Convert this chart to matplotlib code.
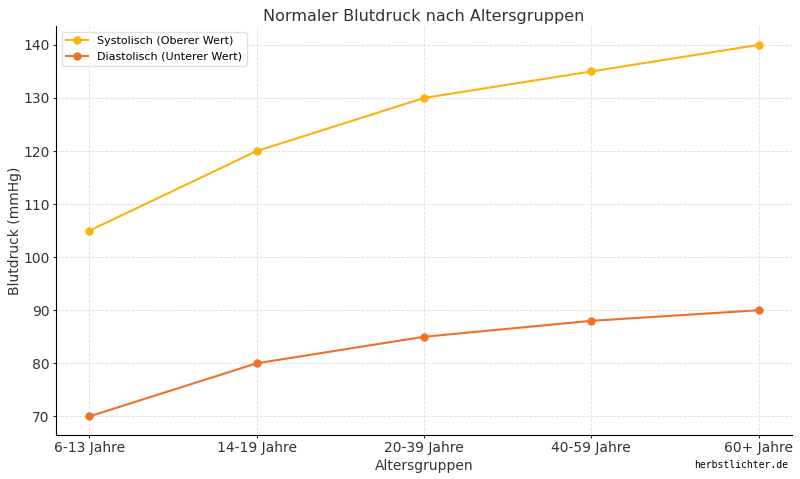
import matplotlib
matplotlib.use("Agg")
import matplotlib.pyplot as plt

# Daten
altersgruppen = ["6-13 Jahre", "14-19 Jahre", "20-39 Jahre", "40-59 Jahre", "60+ Jahre"]
systolisch = [105, 120, 130, 135, 140]
diastolisch = [70, 80, 85, 88, 90]

fig, ax = plt.subplots(figsize=(8, 4.79), dpi=100)

x = range(len(altersgruppen))
ax.plot(x, systolisch, marker="o", markersize=5, color="#FDB10F", linewidth=1.5,
        label="Systolisch (Oberer Wert)")
ax.plot(x, diastolisch, marker="o", markersize=5, color="#F0702A", linewidth=1.5,
        label="Diastolisch (Unterer Wert)")

ax.set_xticks(list(x))
ax.set_xticklabels(altersgruppen)
ax.set_title("Normaler Blutdruck nach Altersgruppen", fontsize=11.5, color="#333333", pad=4)
ax.set_xlabel("Altersgruppen", fontsize=10, color="#333333", labelpad=3)
ax.set_ylabel("Blutdruck (mmHg)", fontsize=10, color="#333333", labelpad=1)
ax.tick_params(labelsize=10, colors="#333333", length=2.5, pad=2)

ax.grid(True, linestyle="--", linewidth=0.6, color="#dddddd")
ax.spines["top"].set_visible(False)
ax.spines["right"].set_visible(False)

ax.legend(loc="upper left", fontsize=8, framealpha=0.9, edgecolor="#dddddd")

fig.subplots_adjust(left=0.07, right=0.99, top=0.945, bottom=0.092)
fig.text(0.985, 0.018, "herbstlichter.de", family="DejaVu Sans Mono", fontsize=7,
         ha="right", va="bottom")

fig.savefig("out.png")
